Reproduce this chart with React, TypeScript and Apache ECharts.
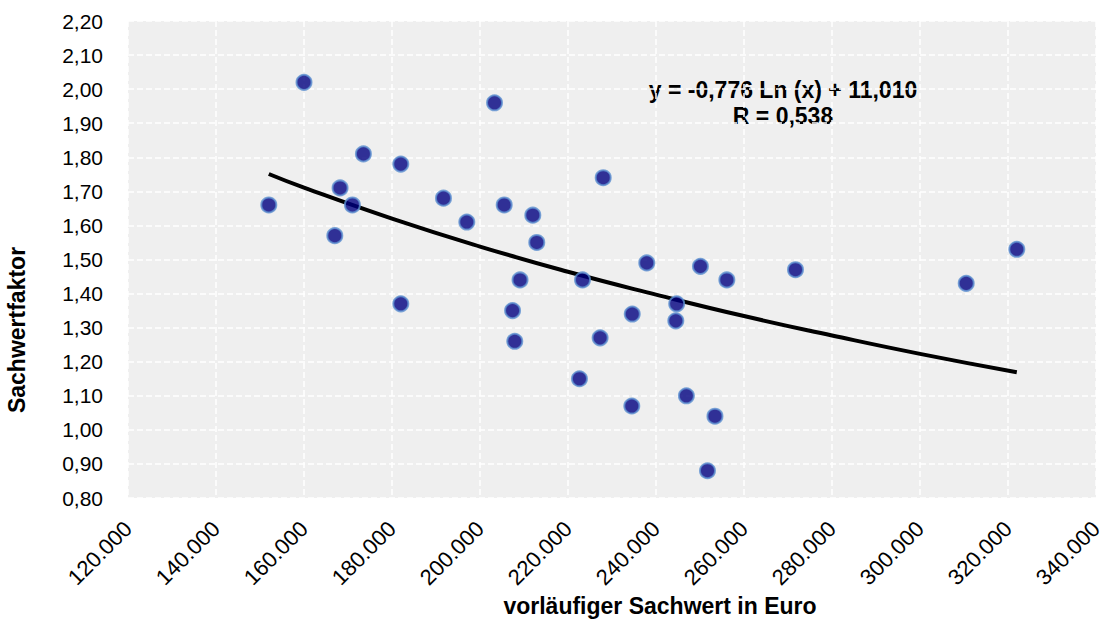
import React, { useEffect, useRef } from "react";
import * as echarts from "echarts";

// Data
const sachwert: number[] = [
  152000, 160000, 168200, 171000, 167000, 173500, 182000, 191700, 182000, 197000,
  203300, 205500, 212000, 212900, 228000, 209100, 207400, 207900, 223300, 222600,
  227300, 234600, 234500, 237900, 244700, 244500, 246900, 250100, 253400, 251700,
  256100, 271700, 310500, 322000,
];
const faktor: number[] = [
  1.66, 2.02, 1.71, 1.66, 1.57, 1.81, 1.78, 1.68, 1.37, 1.61,
  1.96, 1.66, 1.63, 1.55, 1.74, 1.44, 1.35, 1.26, 1.44, 1.15,
  1.27, 1.34, 1.07, 1.49, 1.37, 1.32, 1.10, 1.48, 1.04, 0.88,
  1.44, 1.47, 1.43, 1.53,
];
// Trend line values
const trendX: number[] = [152000, 160000, 180000, 200000, 220000, 240000, 260000, 280000, 300000, 322000];
const trendY: number[] = [1.751, 1.711, 1.620, 1.538, 1.464, 1.397, 1.334, 1.277, 1.223, 1.169];

const equationText = "y = -0,776 Ln (x) + 11,010";
const rText = "R = 0,538";
const xAxisName = "vorläufiger Sachwert in Euro";
const yAxisName = "Sachwertfaktor";

const FONT = "Liberation Sans, Arial, Helvetica, sans-serif";

export default function App() {
  const ref = useRef<HTMLDivElement>(null);
  useEffect(() => {
    document.body.style.margin = "0";
    if (!ref.current) return;
    const chart = echarts.init(ref.current, undefined, { renderer: "svg" });
    const fmtX = (v: number) => String(Math.round(v)).replace(/\B(?=(\d{3})+(?!\d))/g, ".");
    const boldText = (text: string, x: number, y: number, rotation = 0) => ({
      type: "text",
      x,
      y,
      rotation,
      style: {
        text,
        textAlign: "center",
        textVerticalAlign: "middle",
        fontSize: 23,
        fontWeight: "bold",
        fontFamily: FONT,
        fill: "#000",
      },
    });
    chart.setOption({
      animation: false,
      grid: {
        left: 128,
        right: 11,
        top: 21,
        bottom: 121,
        show: true,
        backgroundColor: "#EFEFEF",
        borderWidth: 0,
      },
      xAxis: {
        type: "value",
        min: 120000,
        max: 340000,
        interval: 20000,
        axisLine: { show: false },
        axisTick: { show: false },
        axisLabel: {
          rotate: 45,
          formatter: fmtX,
          fontSize: 22,
          color: "#000",
          fontFamily: FONT,
          margin: 27,
        },
        splitLine: { show: true, lineStyle: { color: "#FFFFFF", type: [6, 3], width: 1.5 } },
      },
      yAxis: {
        type: "value",
        min: 0.8,
        max: 2.2,
        interval: 0.1,
        axisLine: { show: false },
        axisTick: { show: false },
        axisLabel: {
          formatter: (v: number) => v.toFixed(2).replace(".", ","),
          fontSize: 21,
          color: "#000",
          fontFamily: FONT,
          margin: 25,
        },
        splitLine: { show: true, lineStyle: { color: "#FFFFFF", type: [6, 3], width: 1.5 } },
      },
      series: [
        {
          type: "line",
          data: trendX.map((x, i) => [x, trendY[i]]),
          smooth: true,
          showSymbol: false,
          symbol: "none",
          lineStyle: { color: "#000", width: 4 },
          z: 2,
        },
        {
          type: "scatter",
          data: sachwert.map((x, i) => [x, faktor[i]]),
          symbol: "circle",
          symbolSize: 15,
          itemStyle: { color: "#000080", borderColor: "#5B8ED0", borderWidth: 2 },
          z: 3,
        },
      ],
      graphic: [
        boldText(equationText, 783, 90),
        boldText(rText, 783, 116),
        boldText(xAxisName, 660, 606),
        boldText(yAxisName, 17, 330, Math.PI / 2),
      ],
    });
    return () => chart.dispose();
  }, []);
  return <div ref={ref} style={{ width: 1107, height: 619 }} />;
}
